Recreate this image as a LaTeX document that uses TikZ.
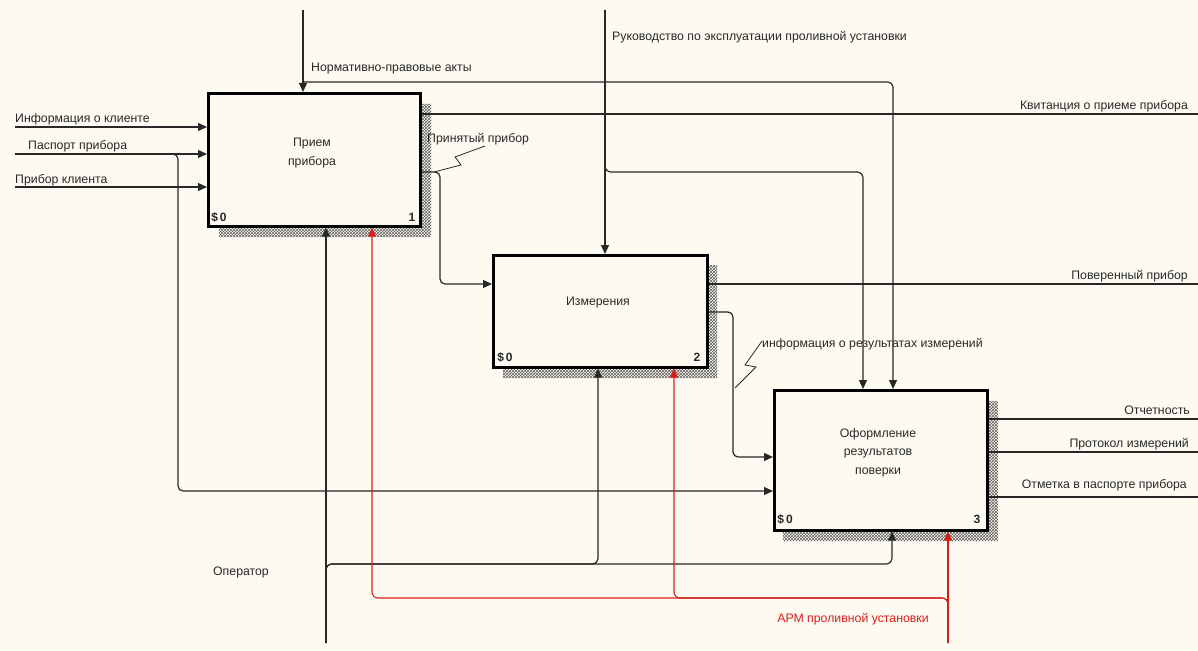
\documentclass[tikz,border=0pt]{standalone}
\usepackage{fontspec}
\setmainfont{Liberation Sans}
\usetikzlibrary{arrows.meta,patterns}
\definecolor{bg}{RGB}{253,251,241}
\definecolor{ln}{RGB}{40,40,40}
\definecolor{rd}{RGB}{215,30,30}
\definecolor{shd}{RGB}{95,95,95}
\begin{document}
\begin{tikzpicture}[x=1pt,y=-1pt,
  every node/.style={font=\fontsize{12.3}{18.5}\selectfont, inner sep=0pt, text=ln},
  box/.style={draw=black, line width=2.6pt, fill=bg, anchor=north west, inner sep=0pt},
  shadow/.style={pattern=crosshatch, pattern color=shd},
  wire/.style={draw=ln, line width=1.2pt},
  arr/.style={wire, -{Triangle[length=9pt,width=8pt]}},
  rwire/.style={draw=rd, line width=1.1pt},
  rarr/.style={rwire, -{Triangle[length=9pt,width=8pt]}},
  zig/.style={draw=ln, line width=0.8pt},
  lab/.style={anchor=base west},
  rlab/.style={anchor=base east},
  num/.style={font=\bfseries\fontsize{12}{13}\selectfont, anchor=base}]
\useasboundingbox (0,0) rectangle (1198,650);
\fill[bg] (0,0) rectangle (1198,650);

% shadows
\fill[shadow] (419,104) -- (431,104) -- (431,237) -- (219,237) -- (219,225) -- (419,225) -- cycle;
\fill[shadow] (706,265) -- (717,265) -- (717,378) -- (503,378) -- (503,366) -- (706,366) -- cycle;
\fill[shadow] (986,401) -- (998,401) -- (998,541) -- (783,541) -- (783,529) -- (986,529) -- cycle;

% boxes
\node[box, minimum width=212pt, minimum height=133pt] (b1) at (207,92) {};
\node[box, minimum width=214pt, minimum height=112pt] (b2) at (492,254) {};
\node[box, minimum width=213pt, minimum height=140pt] (b3) at (773,389) {};

\node[align=center, anchor=base] (t1) at (312,165) {Прием\\прибора};
\node[anchor=base] (t2) at (598,305) {Измерения};
\node[align=center, anchor=base] (t3) at (878,474) {Оформление\\результатов\\поверки};

\node[num] (n1a) at (219,221) {\$\,0};
\node[num] (n1b) at (412,221) {1};
\node[num] (n2a) at (505,361) {\$\,0};
\node[num] (n2b) at (697,361) {2};
\node[num] (n3a) at (785,523) {\$\,0};
\node[num] (n3b) at (977,523) {3};

% coordinates
\coordinate (i1) at (15,127);
\coordinate (i2) at (15,154);
\coordinate (i3) at (15,187);
\coordinate (q1) at (178,154);
\coordinate (q2) at (178,491);
\coordinate (c1) at (303,10);
\coordinate (k0) at (303,82);
\coordinate (k1) at (893,82);
\coordinate (c2) at (605,10);
\coordinate (r1) at (605,172);
\coordinate (r2) at (863,172);
\coordinate (o1) at (1198,114);
\coordinate (s1) at (440,172);
\coordinate (s2) at (440,284);
\coordinate (o2) at (1198,284);
\coordinate (u1) at (733,312);
\coordinate (u2) at (733,457);
\coordinate (o3) at (1198,419);
\coordinate (o4) at (1198,452);
\coordinate (o5) at (1198,497);
\coordinate (m1) at (326,643);
\coordinate (p1) at (326,564);
\coordinate (p2) at (598,564);
\coordinate (p3) at (892,564);
\coordinate (m2) at (948,643);
\coordinate (a1) at (948,598);
\coordinate (a2) at (372,598);
\coordinate (a3) at (674,598);

% inputs
\draw[arr] (i1) -- (i1 -| b1.west);
\draw[arr] (i2) -- (i2 -| b1.west);
\draw[arr] (i3) -- (i3 -| b1.west);
\draw[arr, rounded corners=5pt] (i2) -- (q1) -- (q2) -- (q2 -| b3.west);

% controls
\draw[arr] (c1) -- (c1 |- b1.north);
\draw[arr, rounded corners=5pt] (k0) -- (k1) -- (k1 |- b3.north);
\draw[arr] (c2) -- (c2 |- b2.north);
\draw[arr, rounded corners=6pt] (c2) -- (r1) -- (r2) -- (r2 |- b3.north);

% outputs
\draw[wire] (o1 -| b1.east) -- (o1);
\draw[arr, rounded corners=5pt] (s1 -| b1.east) -- (s1) -- (s2) -- (s2 -| b2.west);
\draw[wire] (o2 -| b2.east) -- (o2);
\draw[arr, rounded corners=5pt] (u1 -| b2.east) -- (u1) -- (u2) -- (u2 -| b3.west);
\draw[wire] (o3 -| b3.east) -- (o3);
\draw[wire] (o4 -| b3.east) -- (o4);
\draw[wire] (o5 -| b3.east) -- (o5);

% mechanisms
\draw[arr] (m1) -- (m1 |- b1.south);
\draw[arr, rounded corners=6pt] (m1) -- (p1) -- (p2) -- (p2 |- b2.south);
\draw[arr, rounded corners=6pt] (m1) -- (p1) -- (p3) -- (p3 |- b3.south);
\draw[rarr] (m2) -- (m2 |- b3.south);
\draw[rarr, rounded corners=6pt] (m2) -- (a1) -- (a2) -- (a2 |- b1.south);
\draw[rarr, rounded corners=6pt] (m2) -- (a1) -- (a3) -- (a3 |- b2.south);

% squiggles
\draw[zig] (485,146) -- (455,157) -- (461,165) -- (434,172);
\draw[zig] (762,341) -- (745,365) -- (756,367) -- (735,388);

% labels
\node[lab] (l1) at (15,122) {Информация о клиенте};
\node[lab] (l2) at (28,149) {Паспорт прибора};
\node[lab] (l3) at (15,183) {Прибор клиента};
\node[lab] (l4) at (311,72) {Нормативно-правовые акты};
\node[lab] (l5) at (612,41) {Руководство по эксплуатации проливной установки};
\node[rlab] (l6) at (1188,110) {Квитанция о приеме прибора};
\node[lab] (l7) at (427,142) {Принятый прибор};
\node[rlab] (l8) at (1188,279) {Поверенный прибор};
\node[lab] (l9) at (762,347) {информация о результатах измерений};
\node[rlab] (l10) at (1190,414) {Отчетность};
\node[rlab] (l11) at (1189,447) {Протокол измерений};
\node[rlab] (l12) at (1187,488) {Отметка в паспорте прибора};
\node[anchor=base] (l13) at (241,575) {Оператор};
\node[anchor=base, text=rd] (l14) at (853,622) {АРМ проливной установки};
\end{tikzpicture}
\end{document}
